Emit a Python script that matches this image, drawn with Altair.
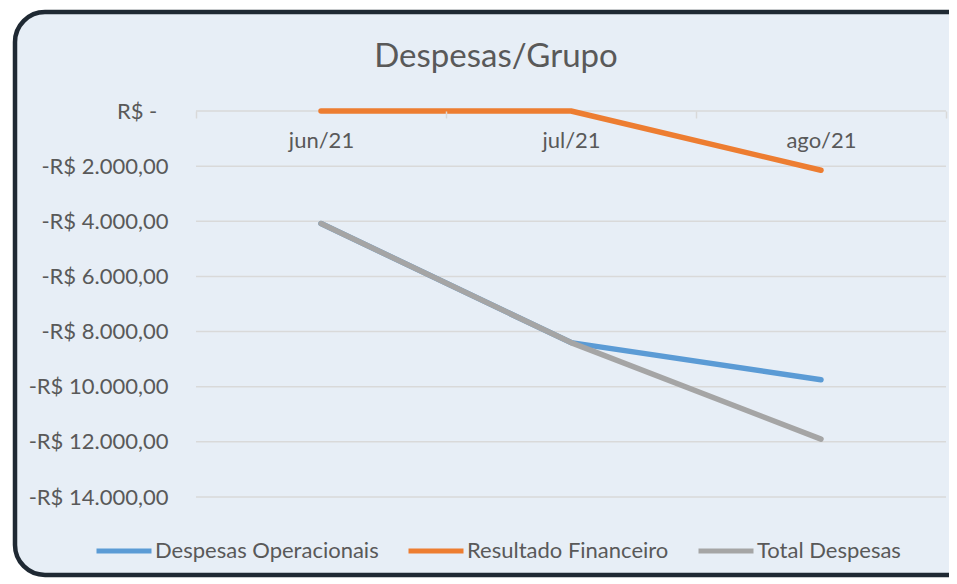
import altair as alt
import pandas as pd

months = ["jun/21", "jul/21", "ago/21"]
series_names = ["Despesas Operacionais", "Resultado Financeiro", "Total Despesas"]
series_colors = ["#5B9BD5", "#ED7D31", "#A5A5A5"]
desp_oper = [-4080, -8400, -9750]
result_fin = [0, 0, -2150]
total_desp = [-4080, -8400, -11900]
y_ticks = [0, -2000, -4000, -6000, -8000, -10000, -12000, -14000]
chart_title = "Despesas/Grupo"

rows = []
for name, vals in zip(series_names, [desp_oper, result_fin, total_desp]):
    for m, v in zip(months, vals):
        rows.append({"Mes": m, "Serie": name, "Valor": v})
df = pd.DataFrame(rows)
grid_df = pd.DataFrame({"v": y_ticks})

FONT = "Lato"
TXT = "#595959"
GRID = "#D9D9D9"
W, H = 750, 386
FS = 22

y_scale = alt.Scale(domain=[-14000, 0], nice=False, zero=False)
x_scale = alt.Scale(type="band", paddingInner=0, paddingOuter=0)

label_expr = (
    "datum.value == 0 ? 'R$ -\u00a0\u00a0\u200b' : '-R$ ' + "
    "replace(replace(replace(format(abs(datum.value), ',.2f'), ',', '#'), '.', ','), '#', '.')"
)
y_axis = alt.Axis(
    title=None, values=y_ticks, labelExpr=label_expr, grid=False,
    domain=False, ticks=False, labelPadding=28, labelFont=FONT,
    labelFontSize=FS, labelColor=TXT, zindex=1,
)

frame = alt.Chart(pd.DataFrame({"a": [0]})).mark_rect(
    cornerRadius=30, fill="#E7EEF6", stroke="#1F2933", strokeWidth=4.5
).encode(
    x=alt.value(-181), x2=alt.value(1200),
    y=alt.value(-99), y2=alt.value(464),
)

grid = alt.Chart(grid_df).mark_rule(color=GRID, strokeWidth=1.5).encode(
    y=alt.Y("v:Q", scale=y_scale, axis=y_axis),
)

lines = alt.Chart(df).mark_line(strokeWidth=5.5, strokeCap="round", strokeJoin="round").encode(
    x=alt.X("Mes:N", sort=months, scale=x_scale, axis=alt.Axis(
        title=None, orient="bottom", offset=-H, domain=False,
        ticks=True, tickBand="extent", tickSize=7, tickColor=GRID, tickWidth=1.5,
        labelAngle=0, labelPadding=12, labelFont=FONT, labelFontSize=FS,
        labelColor=TXT, grid=False, zindex=1,
    )),
    y=alt.Y("Valor:Q", scale=y_scale, axis=y_axis),
    color=alt.Color("Serie:N", scale=alt.Scale(domain=series_names, range=series_colors),
                    legend=alt.Legend(
                        title=None, orient="none", legendX=-102, legendY=410,
                        direction="horizontal", symbolType="stroke", symbolSize=3025,
                        symbolStrokeWidth=5, labelFont=FONT, labelFontSize=FS,
                        labelColor=TXT, columnPadding=19, labelOffset=1, labelLimit=400,
                    )),
)

chart = alt.layer(frame, grid, lines).properties(
    width=W, height=H,
    title=alt.TitleParams(chart_title, font=FONT, fontSize=33, fontWeight="normal",
                          color=TXT, anchor="middle", dx=-75, offset=-64),
    autosize=alt.AutoSizeParams(type="none"),
    padding={"left": 188, "top": 103, "right": 3, "bottom": 83},
    background="white",
).configure_view(stroke=None)

chart.save("out.html", embed_options={"renderer": "svg", "actions": False})
